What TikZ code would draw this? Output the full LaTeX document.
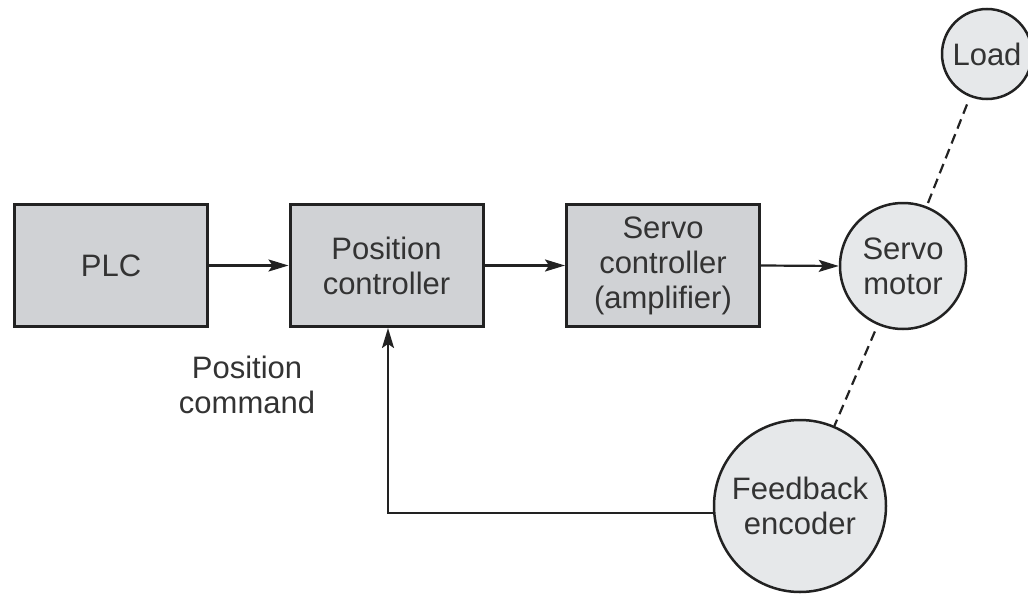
\documentclass[tikz,border=0pt]{standalone}
\usepackage{fontspec}
\setmainfont{Liberation Sans}
\usetikzlibrary{arrows.meta}
\definecolor{boxfill}{HTML}{D0D2D5}
\definecolor{circfill}{HTML}{E6E8EA}
\definecolor{txt}{HTML}{333333}
\definecolor{edge}{HTML}{222222}
\begin{document}
\begin{tikzpicture}[x=1pt,y=-1pt,
  every node/.style={font=\fontsize{31}{35}\selectfont, text=txt, align=center},
  blockbox/.style={draw=edge, line width=3pt, fill=boxfill, minimum width=193pt, minimum height=122pt, inner sep=0pt},
  circ/.style={circle, draw=edge, line width=2.5pt, fill=circfill, inner sep=0pt},
  sig/.style={line width=2.2pt, draw=edge, -{Stealth[length=20pt,width=12pt,inset=4pt]}},
  link/.style={line width=2.2pt, draw=edge, dash pattern=on 10pt off 6pt}
]
\useasboundingbox (0,0) rectangle (1028,594);

\node[blockbox] (plc) at (111,265.5) {PLC};
\node[blockbox] (pc) at (386.5,265.5) {Position\\controller};
\node[blockbox] (sc) at (663,265.5) {Servo\\controller\\(amplifier)};
\node[circ, minimum size=126pt] (motor) at (903,266) {Servo\\motor};
\node[circ, minimum size=90pt] (load) at (987,54) {Load};
\node[circ, minimum size=172pt] (enc) at (800,506) {Feedback\\encoder};
\node (cmd) at (247,385) {Position\\command};

\draw[sig] (plc.east) -- (pc.west);
\draw[sig] (pc.east) -- (sc.west);
\draw[sig] (sc.east) -- (motor.west);

\coordinate (fbc) at (388,513);
\draw[sig] (enc.west |- fbc) -- (fbc) -- (fbc |- pc.south);

\draw[link, shorten <=8pt] (load) -- (motor);
\draw[link, shorten <=7pt] (motor) -- (enc);
\end{tikzpicture}
\end{document}
